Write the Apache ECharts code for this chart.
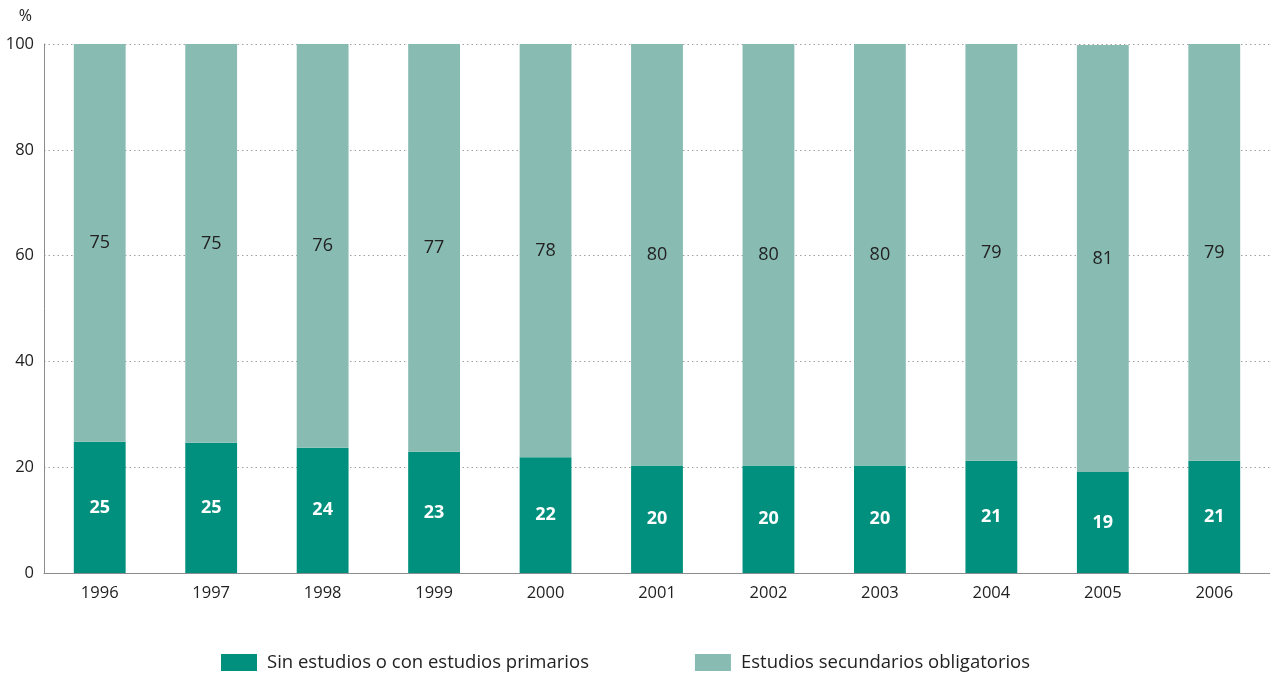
<!DOCTYPE html>
<html>
<head>
<meta charset="utf-8">
<script src="https://cdn.jsdelivr.net/npm/echarts@6/dist/echarts.min.js"></script>
<style>
html,body{margin:0;padding:0;background:#fff;}
#chart{width:1270px;height:675px;}
</style>
</head>
<body>
<div id="chart"></div>
<script>
const categories = ['1996','1997','1998','1999','2000','2001','2002','2003','2004','2005','2006'];
const sinEstudios = [24.8, 24.6, 23.7, 22.9, 21.9, 20.3, 20.3, 20.3, 21.2, 19.1, 21.2];
const secundarios = [75.2, 75.4, 76.3, 77.1, 78.1, 79.7, 79.7, 79.7, 78.8, 80.7, 78.8];
const yTicks = [0, 20, 40, 60, 80, 100];
const seriesNames = ['Sin estudios o con estudios primarios', 'Estudios secundarios obligatorios'];

const FONT = '"Open Sans", "Noto Sans", sans-serif';
const chart = echarts.init(document.getElementById('chart'), null, {renderer: 'canvas'});
chart.setOption({
  animation: false,
  textStyle: {fontFamily: FONT},
  grid: {left: 44, right: -4, top: 44, bottom: 102, containLabel: false},
  legend: {
    bottom: -2,
    left: 216,
    itemWidth: 36,
    itemHeight: 17,
    itemGap: 106,
    icon: 'rect',
    textStyle: {fontFamily: FONT, fontSize: 18.5, color: '#222', padding: [0, 0, 0, 5]},
    data: seriesNames
  },
  xAxis: {
    type: 'category',
    data: categories,
    axisLine: {show: true, lineStyle: {color: '#8c8c8c', width: 1}},
    axisTick: {show: false},
    axisLabel: {color: '#222', fontSize: 16.5, margin: 12, fontFamily: FONT}
  },
  yAxis: {
    type: 'value',
    min: yTicks[0],
    max: yTicks[yTicks.length - 1],
    interval: 20,
    name: '%',
    nameLocation: 'end',
    nameGap: 20,
    nameTextStyle: {color: '#222', fontSize: 16, align: 'right', padding: [0, 12, 0, 0], fontFamily: FONT},
    axisLine: {show: true, lineStyle: {color: '#8c8c8c', width: 1}},
    axisTick: {show: false},
    axisLabel: {color: '#222', fontSize: 16.5, margin: 10, fontFamily: FONT},
    splitLine: {show: true, lineStyle: {color: '#a0a0a0', type: [1.5, 3], width: 1}}
  },
  series: [
    {
      name: seriesNames[0],
      type: 'bar',
      stack: 'total',
      barWidth: '46.5%',
      data: sinEstudios,
      itemStyle: {color: '#00907d'},
      label: {
        show: true,
        position: 'inside',
        formatter: p => Math.round(p.value),
        color: '#ffffff',
        fontWeight: 'bold',
        fontSize: 18,
        fontFamily: FONT
      }
    },
    {
      name: seriesNames[1],
      type: 'bar',
      stack: 'total',
      barWidth: '46.5%',
      data: secundarios,
      itemStyle: {color: '#88bbb2'},
      label: {
        show: true,
        position: 'inside',
        formatter: p => Math.round(p.value),
        color: '#222',
        fontSize: 18,
        fontFamily: FONT
      }
    }
  ]
});
</script>
</body>
</html>
